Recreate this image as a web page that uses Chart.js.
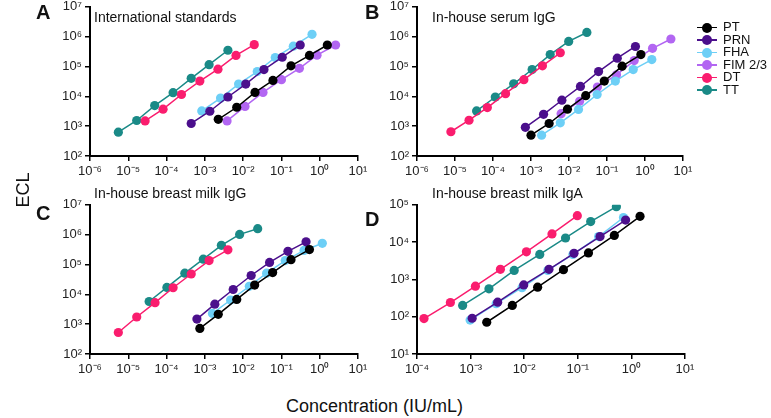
<!DOCTYPE html>
<html>
<head>
<meta charset="utf-8">
<script src="https://cdn.jsdelivr.net/npm/chart.js@4.4.1/dist/chart.umd.min.js"></script>
<style>
    html, body { margin: 0; padding: 0; background: #fff; }
    body { width: 771px; height: 418px; position: relative; overflow: hidden; font-family: "Liberation Sans", Arial, sans-serif; color: #111; }
    canvas { position: absolute; }
    .letter { position: absolute; font-weight: bold; font-size: 20px; line-height: 20px; }
    .title { position: absolute; font-size: 14px; line-height: 16px; }
    .axis-title { position: absolute; font-size: 18px; line-height: 20px; }
    #legend { position: absolute; left: 697px; top: 21px; font-size: 13px; }
    .item { position: relative; height: 12.5px; line-height: 12.5px; padding-left: 26px; }
    .item .ln { position: absolute; left: 0px; top: 5.5px; width: 20px; height: 1.5px; }
    .item .dot { position: absolute; left: 5px; top: 1.5px; width: 10px; height: 10px; border-radius: 50%; }
</style>
</head>
<body>
<canvas id="chartA"></canvas>
<canvas id="chartB"></canvas>
<canvas id="chartC"></canvas>
<canvas id="chartD"></canvas>

<div class="letter" style="left:36px;top:2px;">A</div>
<div class="letter" style="left:365px;top:2px;">B</div>
<div class="letter" style="left:36px;top:203px;">C</div>
<div class="letter" style="left:365px;top:209px;">D</div>

<div class="title" style="left:94px;top:9px;">International standards</div>
<div class="title" style="left:432px;top:9px;">In-house serum IgG</div>
<div class="title" style="left:94px;top:185px;">In-house breast milk IgG</div>
<div class="title" style="left:432px;top:185px;">In-house breast milk IgA</div>

<div class="axis-title" style="left:5px;top:180px;transform:rotate(-90deg);transform-origin:center;width:36px;text-align:center;">ECL</div>
<div class="axis-title" style="left:286px;top:396px;">Concentration (IU/mL)</div>

<div id="legend"></div>

<script>
// Series names and colours
const seriesNames = ['PT', 'PRN', 'FHA', 'FIM 2/3', 'DT', 'TT'];
const seriesColors = ['#000000', '#4b0f8c', '#6dcff6', '#b266f2', '#fa1d6e', '#1a8a87'];

// Panel A - International standards (concentration IU/mL, ECL)
const concA_PT  = [2.24e-3, 6.8e-3, 2.04e-2, 6.0e-2, 0.178, 0.54, 1.58];
const eclA_PT   = [1700, 4300, 13500, 34000, 105000, 234000, 525000];
const concA_PRN = [4.4e-4, 1.35e-3, 4.0e-3, 1.17e-2, 3.5e-2, 0.105, 0.31];
const eclA_PRN  = [1230, 3160, 9500, 25700, 79000, 204000, 525000];
const concA_FHA = [8.3e-4, 2.57e-3, 7.6e-3, 2.34e-2, 6.9e-2, 0.204, 0.63];
const eclA_FHA  = [3240, 8700, 25700, 67600, 200000, 479000, 1.2e6];
const concA_FIM = [3.8e-3, 1.12e-2, 3.3e-2, 0.1, 0.295, 0.85, 2.6];
const eclA_FIM  = [1500, 4600, 13500, 36000, 87000, 240000, 525000];
const concA_DT  = [2.75e-5, 8.1e-5, 2.45e-4, 7.4e-4, 2.2e-3, 6.5e-3, 1.95e-2];
const eclA_DT   = [1500, 3700, 11500, 32500, 81000, 234000, 540000];
const concA_TT  = [5.5e-6, 1.66e-5, 4.9e-5, 1.48e-4, 4.4e-4, 1.29e-3, 4.0e-3];
const eclA_TT   = [630, 1550, 4900, 13200, 40000, 115000, 350000];

// Panel B - In-house serum IgG
const concB_PT  = [1.0e-3, 3.0e-3, 9.1e-3, 2.75e-2, 8.5e-2, 0.25, 0.78];
const eclB_PT   = [500, 1230, 3700, 10500, 32400, 102000, 251000];
const concB_PRN = [7.1e-4, 2.14e-3, 6.5e-3, 2.0e-2, 6.0e-2, 0.186, 0.56];
const eclB_PRN  = [912, 2500, 7400, 21400, 67600, 190000, 468000];
const concB_FHA = [1.9e-3, 5.9e-3, 1.78e-2, 5.5e-2, 0.166, 0.49, 1.51];
const eclB_FHA  = [500, 1290, 3630, 11500, 32400, 79000, 170000];
const concB_FIM = [6.2e-3, 1.9e-2, 5.6e-2, 0.178, 0.52, 1.58, 4.8];
const eclB_FIM  = [2630, 6800, 20400, 52500, 158000, 407000, 832000];
const concB_DT  = [7.8e-6, 2.34e-5, 7.1e-5, 2.14e-4, 6.5e-4, 2.0e-3, 5.9e-3];
const eclB_DT   = [650, 1580, 4200, 12300, 36000, 105000, 288000];
const concB_TT  = [3.7e-5, 1.15e-4, 3.5e-4, 1.07e-3, 3.2e-3, 9.8e-3, 2.95e-2];
const eclB_TT   = [3240, 9500, 26300, 79000, 251000, 690000, 1.38e6];

// Panel C - In-house breast milk IgG (no FIM)
const concC_PT  = [7.4e-4, 2.24e-3, 6.8e-3, 2.0e-2, 5.9e-2, 0.178, 0.54];
const eclC_PT   = [720, 2140, 6760, 20400, 53700, 145000, 316000];
const concC_PRN = [6.2e-4, 1.82e-3, 5.5e-3, 1.62e-2, 4.9e-2, 0.148, 0.44];
const eclC_PRN  = [1480, 4680, 14500, 42700, 117000, 275000, 575000];
const concC_FHA = [1.58e-3, 4.7e-3, 1.45e-2, 4.1e-2, 0.126, 0.39, 1.17];
const eclC_FHA  = [2290, 6460, 18600, 51300, 135000, 295000, 513000];
const concC_DT  = [5.5e-6, 1.66e-5, 5.0e-5, 1.48e-4, 4.4e-4, 1.29e-3, 4.0e-3];
const eclC_DT   = [525, 1740, 5250, 16600, 47900, 135000, 309000];
const concC_TT  = [3.5e-5, 1.02e-4, 3.0e-4, 9.1e-4, 2.7e-3, 8.1e-3, 2.4e-2];
const eclC_TT   = [5750, 17000, 51300, 151000, 437000, 1.02e6, 1.58e6];

// Panel D - In-house breast milk IgA (no FIM)
const concD_PT  = [2.0e-3, 6.0e-3, 1.78e-2, 5.4e-2, 0.158, 0.48, 1.45];
const eclD_PT   = [71, 200, 617, 1820, 5130, 15100, 49000];
const concD_PRN = [1.07e-3, 3.2e-3, 9.8e-3, 2.9e-2, 8.5e-2, 0.26, 0.78];
const eclD_PRN  = [91, 245, 710, 1860, 5000, 14100, 39000];
const concD_FHA = [9.8e-4, 3.0e-3, 9.1e-3, 2.75e-2, 8.1e-2, 0.245, 0.71];
const eclD_FHA  = [81, 224, 600, 1740, 4680, 14100, 45700];
const concD_DT  = [1.35e-4, 4.2e-4, 1.23e-3, 3.6e-3, 1.1e-2, 3.3e-2, 9.8e-2];
const eclD_DT   = [89, 240, 660, 1860, 5500, 16600, 51000];
const concD_TT  = [7.1e-4, 2.2e-3, 6.5e-3, 1.95e-2, 5.9e-2, 0.174, 0.525];
const eclD_TT   = [200, 560, 1740, 4680, 12900, 35500, 89000];

// Decade exponents for each panel's axes
const xExpAB = [-6, -5, -4, -3, -2, -1, 0, 1];
const yExpAB = [2, 3, 4, 5, 6, 7];
const xExpD = [-4, -3, -2, -1, 0, 1];
const yExpD = [1, 2, 3, 4, 5];

const supMap = { '-': '\u207B', '0': '\u2070', '1': '\u00B9', '2': '\u00B2', '3': '\u00B3',
    '4': '\u2074', '5': '\u2075', '6': '\u2076', '7': '\u2077', '8': '\u2078', '9': '\u2079' };

function powLabel(value) {
    const e = Math.round(Math.log10(value));
    return '10' + String(e).split('').map(c => supMap[c]).join('');
}

function pairs(xs, ys) {
    return xs.map((x, i) => ({ x: x, y: ys[i] }));
}

function makeDataset(idx, xs, ys) {
    return {
        label: seriesNames[idx],
        data: pairs(xs, ys),
        showLine: true,
        borderColor: seriesColors[idx],
        backgroundColor: seriesColors[idx],
        borderWidth: 1.5,
        pointRadius: 4.6,
        pointBorderWidth: 0,
        tension: 0
    };
}

function logAxis(exps, isX) {
    return {
        type: 'logarithmic',
        min: Math.pow(10, exps[0]),
        max: Math.pow(10, exps[exps.length - 1]),
        afterBuildTicks: function(axis) {
            axis.ticks = exps.map(e => ({ value: Math.pow(10, e) }));
        },
        afterFit: function(axis) {
            if (isX) axis.height = 35; else axis.width = 50;
        },
        border: { display: true, color: '#000', width: 2 },
        grid: { display: true, drawOnChartArea: false, drawTicks: true, tickLength: 5, color: '#000', lineWidth: 1.5 },
        ticks: {
            autoSkip: false,
            maxRotation: 0,
            padding: 3,
            color: '#222',
            font: { family: '"Liberation Sans", Arial, sans-serif', size: 13 },
            callback: function(value) { return powLabel(value); }
        }
    };
}

// Plot area rectangles (page pixels)
function createPanel(id, rect, datasets, xExps, yExps) {
    const canvas = document.getElementById(id);
    const w = rect.right - rect.left + 50 + 25;
    const h = rect.bottom - rect.top + 10 + 35;
    canvas.width = w;
    canvas.height = h;
    canvas.style.left = (rect.left - 50) + 'px';
    canvas.style.top = (rect.top - 10) + 'px';
    return new Chart(canvas.getContext('2d'), {
        type: 'scatter',
        data: { datasets: datasets },
        options: {
            responsive: false,
            animation: false,
            layout: { padding: { top: 10, right: 25, left: 0, bottom: 0 } },
            plugins: { legend: { display: false }, tooltip: { enabled: false } },
            scales: { x: logAxis(xExps, true), y: logAxis(yExps, false) }
        }
    });
}

createPanel('chartA', { left: 90, top: 6, right: 358, bottom: 156 }, [
    makeDataset(0, concA_PT, eclA_PT),
    makeDataset(1, concA_PRN, eclA_PRN),
    makeDataset(2, concA_FHA, eclA_FHA),
    makeDataset(3, concA_FIM, eclA_FIM),
    makeDataset(4, concA_DT, eclA_DT),
    makeDataset(5, concA_TT, eclA_TT)
], xExpAB, yExpAB);

createPanel('chartB', { left: 417, top: 6, right: 683, bottom: 156 }, [
    makeDataset(0, concB_PT, eclB_PT),
    makeDataset(1, concB_PRN, eclB_PRN),
    makeDataset(2, concB_FHA, eclB_FHA),
    makeDataset(3, concB_FIM, eclB_FIM),
    makeDataset(4, concB_DT, eclB_DT),
    makeDataset(5, concB_TT, eclB_TT)
], xExpAB, yExpAB);

createPanel('chartC', { left: 90, top: 204, right: 358, bottom: 354 }, [
    makeDataset(0, concC_PT, eclC_PT),
    makeDataset(1, concC_PRN, eclC_PRN),
    makeDataset(2, concC_FHA, eclC_FHA),
    makeDataset(4, concC_DT, eclC_DT),
    makeDataset(5, concC_TT, eclC_TT)
], xExpAB, yExpAB);

createPanel('chartD', { left: 417, top: 204, right: 685, bottom: 354 }, [
    makeDataset(0, concD_PT, eclD_PT),
    makeDataset(1, concD_PRN, eclD_PRN),
    makeDataset(2, concD_FHA, eclD_FHA),
    makeDataset(4, concD_DT, eclD_DT),
    makeDataset(5, concD_TT, eclD_TT)
], xExpD, yExpD);

// Shared legend
const legend = document.getElementById('legend');
seriesNames.forEach((name, i) => {
    const item = document.createElement('div');
    item.className = 'item';
    item.innerHTML = '<span class="ln" style="background:' + seriesColors[i] + '"></span>' +
        '<span class="dot" style="background:' + seriesColors[i] + '"></span>' + name;
    legend.appendChild(item);
});
</script>
</body>
</html>
